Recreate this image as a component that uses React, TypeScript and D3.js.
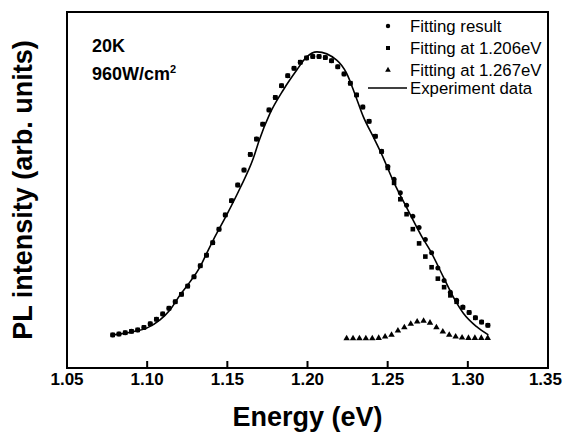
import React, { useEffect, useRef } from "react";
import * as d3 from "d3";

// energies of the fitted points (eV)
const fitEnergy = [
  1.0785, 1.0824, 1.0863, 1.0902, 1.0941, 1.098, 1.1019, 1.1058, 1.1097, 1.1136,
  1.1175, 1.1214, 1.1253, 1.1292, 1.1331, 1.137, 1.1409, 1.1448, 1.1487, 1.1526,
  1.1565, 1.1604, 1.1643, 1.1682, 1.1721, 1.176, 1.1799, 1.1838, 1.1877, 1.1916,
  1.1955, 1.1994, 1.2033, 1.2072, 1.2111, 1.215, 1.2189, 1.2228, 1.2267, 1.2306,
  1.2345, 1.2384, 1.2423, 1.2462, 1.2501, 1.254, 1.2579, 1.2618, 1.2657, 1.2696,
  1.2735, 1.2774, 1.2813, 1.2852, 1.2891, 1.293, 1.2969, 1.3008, 1.3047, 1.3086,
  1.3125,
];

// sum of both peaks
const fittingResult = [
  9.3, 9.55, 9.9, 10.3, 10.7, 11.4, 12.4, 13.7, 15.2, 16.8,
  18.6, 20.7, 23.0, 25.6, 28.7, 31.7, 35.2, 39.0, 43.0, 47.0,
  51.4, 55.6, 60.0, 64.3, 68.5, 72.5, 76.0, 79.3, 82.1, 84.2,
  85.9, 87.1, 87.5, 87.5, 87.2, 86.3, 84.6, 82.6, 80.0, 76.7,
  73.3, 69.3, 65.1, 60.9, 56.6, 53.0, 49.2, 45.7, 42.6, 39.5,
  36.1, 32.4, 28.1, 24.6, 21.3, 19.0, 17.1, 15.6, 14.1, 12.9,
  12.0,
];

// peak at 1.206 eV
const fit1206 = [
  9.3, 9.55, 9.9, 10.3, 10.7, 11.4, 12.4, 13.7, 15.2, 16.8,
  18.6, 20.7, 23.0, 25.6, 28.7, 31.7, 35.2, 39.0, 43.0, 47.0,
  51.4, 55.6, 60.0, 64.3, 68.5, 72.5, 76.0, 79.3, 82.1, 84.2,
  85.9, 87.1, 87.5, 87.5, 87.2, 86.3, 84.6, 82.6, 80.0, 76.7,
  73.3, 69.3, 65.1, 60.8, 56.2, 52.0, 47.4, 43.2, 39.0, 35.0,
  31.3, 28.3, 25.1, 22.7, 20.4, 18.6, 17.0, 15.6, 14.1, 12.9,
  12.0,
];

// peak at 1.267 eV
const energy1267 = [
  1.2244, 1.2284, 1.2324, 1.2364, 1.2404, 1.2444, 1.2484, 1.2524, 1.2564, 1.2604,
  1.2644, 1.2684, 1.2724, 1.2764, 1.2804, 1.2844, 1.2884, 1.2924, 1.2964, 1.3004,
  1.3044, 1.3084, 1.3124,
];
const fit1267 = [
  8.3, 8.3, 8.3, 8.3, 8.3, 8.4, 8.8, 9.3, 10.5, 11.4,
  12.4, 13.0, 13.2, 12.7, 11.4, 10.2, 9.3, 8.8, 8.5, 8.4,
  8.4, 8.4, 8.4,
];

// measured spectrum
const expEnergy = [
  1.0785, 1.0914, 1.0997, 1.108, 1.1142, 1.1205, 1.1267, 1.133, 1.1371, 1.1413,
  1.1496, 1.1579, 1.1662, 1.1699, 1.1766, 1.1849, 1.1933, 1.1995, 1.2059, 1.2182,
  1.2245, 1.2296, 1.2348, 1.2415, 1.2458, 1.254, 1.2625, 1.2712, 1.2764, 1.2847,
  1.2909, 1.2972, 1.3055, 1.3128,
];
const expIntensity = [
  9.3, 10.2, 11.2, 13.5, 16.3, 20.5, 24.2, 28.4, 32.2, 36.0,
  43.0, 50.5, 58.9, 64.0, 71.5, 78.1, 83.7, 87.4, 88.8, 86.5,
  82.7, 76.9, 70.6, 64.5, 60.5, 52.0, 44.5, 37.0, 33.1, 25.6,
  20.0, 15.4, 11.6, 9.3,
];

const xTicks = [1.05, 1.1, 1.15, 1.2, 1.25, 1.3, 1.35];
const legendLabels = [
  "Fitting result",
  "Fitting at 1.206eV",
  "Fitting at 1.267eV",
  "Experiment data",
];

const W = 563;
const H = 433;
const FONT = "'Liberation Sans', Arial, Helvetica, sans-serif";

const App = () => {
  const svgRef = useRef<SVGSVGElement | null>(null);

  useEffect(() => {
    const svg = d3.select(svgRef.current);
    svg.selectAll("*").remove();

    const margin = { top: 12, right: 15, bottom: 65, left: 67 };
    const x = d3
      .scaleLinear()
      .domain([1.05, 1.35])
      .range([margin.left, W - margin.right]);
    const y = d3
      .scaleLinear()
      .domain([0, 100])
      .range([H - margin.bottom, margin.top]);

    const x0 = margin.left;
    const x1 = W - margin.right;
    const y0 = H - margin.bottom;
    const y1 = margin.top;

    // experiment curve
    const line = d3
      .line<number>()
      .x((_, i) => x(expEnergy[i]))
      .y((d) => y(d))
      .curve(d3.curveMonotoneX);

    svg
      .append("path")
      .datum(expIntensity)
      .attr("fill", "none")
      .attr("stroke", "#000")
      .attr("stroke-width", 1.6)
      .attr("d", line);

    // squares (1.206 eV)
    svg
      .append("g")
      .selectAll("rect")
      .data(fit1206)
      .join("rect")
      .attr("x", (_, i) => x(fitEnergy[i]) - 2.3)
      .attr("y", (d) => y(d) - 2.3)
      .attr("width", 4.6)
      .attr("height", 4.6)
      .attr("fill", "#000");

    // circles (fitting result)
    svg
      .append("g")
      .selectAll("circle")
      .data(fittingResult)
      .join("circle")
      .attr("cx", (_, i) => x(fitEnergy[i]))
      .attr("cy", (d) => y(d))
      .attr("r", 2.5)
      .attr("fill", "#000");

    // triangles (1.267 eV)
    const tri = d3.symbol(d3.symbolTriangle, 18);
    svg
      .append("g")
      .selectAll("path")
      .data(fit1267)
      .join("path")
      .attr("d", tri)
      .attr("transform", (d, i) => `translate(${x(energy1267[i])},${y(d)})`)
      .attr("fill", "#000");

    // frame
    svg
      .append("rect")
      .attr("x", x0)
      .attr("y", y1)
      .attr("width", x1 - x0)
      .attr("height", y0 - y1)
      .attr("fill", "none")
      .attr("stroke", "#000")
      .attr("stroke-width", 2);

    // inward ticks
    const axis = svg.append("g");
    axis
      .selectAll("line")
      .data(xTicks)
      .join("line")
      .attr("x1", (d) => x(d))
      .attr("x2", (d) => x(d))
      .attr("y1", y0)
      .attr("y2", y0 - 7)
      .attr("stroke", "#000")
      .attr("stroke-width", 2);
    // last label would run off the page, so it is pinned to the right edge
    const last = xTicks.length - 1;
    axis
      .selectAll("text")
      .data(xTicks)
      .join("text")
      .attr("x", (d, i) => (i === last ? W - 1 : x(d)))
      .attr("y", y0 + 17)
      .attr("text-anchor", (_, i) => (i === last ? "end" : "middle"))
      .attr("font-family", FONT)
      .attr("font-weight", "bold")
      .attr("font-size", 17)
      .text((d) => d3.format(".2f")(d));

    // axis titles
    svg
      .append("text")
      .attr("x", (x0 + x1) / 2)
      .attr("y", 426)
      .attr("text-anchor", "middle")
      .attr("font-family", FONT)
      .attr("font-weight", "bold")
      .attr("font-size", 27)
      .text("Energy (eV)");

    svg
      .append("text")
      .attr("transform", `translate(32,${(y0 + y1) / 2}) rotate(-90)`)
      .attr("text-anchor", "middle")
      .attr("font-family", FONT)
      .attr("font-weight", "bold")
      .attr("font-size", 27)
      .text("PL intensity (arb. units)");

    // sample conditions
    svg
      .append("text")
      .attr("x", 92)
      .attr("y", 52)
      .attr("font-family", FONT)
      .attr("font-weight", "bold")
      .attr("font-size", 18)
      .text("20K");
    const power = svg
      .append("text")
      .attr("x", 92)
      .attr("y", 80)
      .attr("font-family", FONT)
      .attr("font-weight", "bold")
      .attr("font-size", 18);
    power.append("tspan").text("960W/cm");
    power
      .append("tspan")
      .attr("font-size", 11)
      .attr("dy", -7)
      .text("2");

    // legend
    const legend = svg.append("g").attr("font-family", FONT).attr("font-size", 16.8);
    const rowY = [32, 54, 76, 94];
    legend
      .selectAll("text")
      .data(legendLabels)
      .join("text")
      .attr("x", 410)
      .attr("y", (_, i) => rowY[i])
      .text((d) => d);
    legend
      .append("circle")
      .attr("cx", 388)
      .attr("cy", rowY[0] - 6)
      .attr("r", 2.2)
      .attr("fill", "#000");
    legend
      .append("rect")
      .attr("x", 386)
      .attr("y", rowY[1] - 8)
      .attr("width", 4)
      .attr("height", 4)
      .attr("fill", "#000");
    legend
      .append("path")
      .attr("d", d3.symbol(d3.symbolTriangle, 14)())
      .attr("transform", `translate(388,${rowY[2] - 6})`)
      .attr("fill", "#000");
    legend
      .append("line")
      .attr("x1", 368)
      .attr("x2", 407)
      .attr("y1", rowY[3] - 6)
      .attr("y2", rowY[3] - 6)
      .attr("stroke", "#000")
      .attr("stroke-width", 1.6);
  }, []);

  return (
    <div style={{ position: "fixed", left: 0, top: 0 }}>
      <svg ref={svgRef} width={W} height={H} style={{ display: "block", background: "#fff" }} />
    </div>
  );
};

export default App;
